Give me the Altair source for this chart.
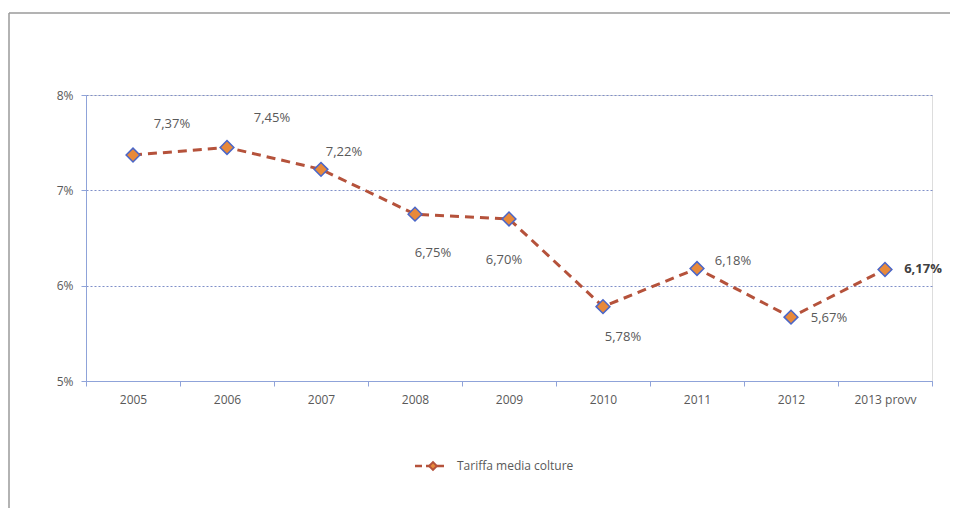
import altair as alt
import pandas as pd

years = ["2005", "2006", "2007", "2008", "2009", "2010", "2011", "2012", "2013 provv"]
values = [0.0737, 0.0745, 0.0722, 0.0675, 0.0670, 0.0578, 0.0618, 0.0567, 0.0617]
labels = ["7,37%", "7,45%", "7,22%", "6,75%", "6,70%", "5,78%", "6,18%", "5,67%", "6,17%"]
series_name = "Tariffa media colture"

df = pd.DataFrame({"anno": years, "val": values, "lab": labels, "idx": list(range(len(years)))})

FONT = "Open Sans"
GREY = "#595959"
LINE_COL = "#B5523B"
FILL_COL = "#E8893A"
EDGE_COL = "#4A66C8"

xenc = alt.X("anno:N", sort=years, bandPosition=0.5,
             scale=alt.Scale(type="band", paddingInner=0, paddingOuter=0),
             axis=alt.Axis(title=None, labelAngle=0, tickBand="extent", domainColor="#8FA3D9",
                           tickColor="#8FA3D9", tickSize=5, labelColor=GREY, labelFont=FONT,
                           labelFontSize=12, labelPadding=8, grid=False))
yenc = alt.Y("val:Q", scale=alt.Scale(domain=[0.05, 0.08], nice=False, zero=False),
             axis=alt.Axis(title=None, values=[0.05, 0.06, 0.07, 0.08], format=".0%",
                           labelColor=GREY, labelFont=FONT, labelFontSize=12, labelPadding=8,
                           domainColor="#8FA3D9", tickColor="#8FA3D9", tickSize=5,
                           grid=True, gridColor="#7F8FC8", gridDash=[2, 2], gridWidth=1))

base = alt.Chart(df)

line = base.mark_line(color=LINE_COL, strokeWidth=3, strokeDash=[9, 6]).encode(x=xenc, y=yenc)
pts = base.mark_point(shape="diamond", filled=True, fill=FILL_COL, stroke=EDGE_COL,
                      strokeWidth=1.5, size=190, opacity=1).encode(x=xenc, y=yenc)

offsets = [(39, -31), (45, -29), (23, -17), (18, 39), (-5, 41), (20, 30), (36, -8), (38, 1), (38, 0)]
texts = []
for i, (dx, dy) in enumerate(offsets):
    t = base.transform_filter(alt.datum.idx == i).mark_text(
        font=FONT, fontSize=13, color=GREY if i < 8 else "#404040",
        fontWeight="bold" if i == 8 else "normal",
        dx=dx, dy=dy, align="center", baseline="middle").encode(x=xenc, y=yenc, text="lab:N")
    texts.append(t)

# outer frame: top and left edges only
one = pd.DataFrame({"a": [0]})
frame_top = alt.Chart(one).mark_rule(color="#9a9a9a", strokeWidth=1.5).encode(
    x=alt.value(-77), x2=alt.value(864), y=alt.value(-82))
frame_left = alt.Chart(one).mark_rule(color="#9a9a9a", strokeWidth=1.5).encode(
    x=alt.value(-77), y=alt.value(-82), y2=alt.value(420))

# legend
leg_df = pd.DataFrame({"name": [series_name]})
leg_line = alt.Chart(leg_df).mark_rule(color=LINE_COL, strokeWidth=2.5, strokeDash=[7, 4]).encode(
    x=alt.value(329), x2=alt.value(362), y=alt.value(371))
leg_pt = alt.Chart(leg_df).mark_point(shape="diamond", filled=True, fill=FILL_COL, stroke=LINE_COL,
                                      size=60, opacity=1).encode(x=alt.value(347), y=alt.value(371))
leg_txt = alt.Chart(leg_df).mark_text(font=FONT, fontSize=12, color=GREY, align="left",
                                      baseline="middle").encode(x=alt.value(371), y=alt.value(371), text="name:N")

chart = alt.layer(frame_top, frame_left, line, pts, *texts, leg_line, leg_pt, leg_txt).properties(
    width=846, height=286,
    autosize=alt.AutoSizeParams(type="none"),
    padding={"left": 86, "top": 95, "right": 30, "bottom": 127},
).configure_view(strokeWidth=0).configure(background="white")

chart.save("out.html", embed_options={"renderer": "svg", "actions": False})
